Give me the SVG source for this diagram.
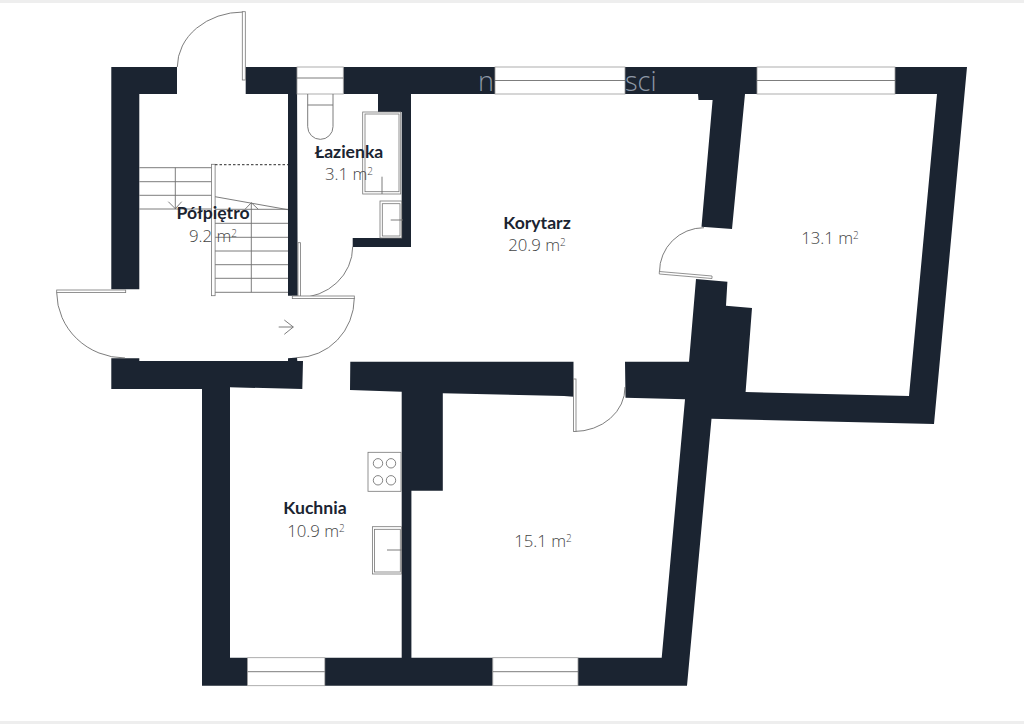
<svg xmlns="http://www.w3.org/2000/svg" width="1024" height="724" viewBox="0 0 1024 724">
<style>
.w{fill:#1b2431}
.win{fill:#fff;stroke:#9a9a9a;stroke-width:.8}
.l{fill:none;stroke:#6e6e6e;stroke-width:.9}
.d{fill:#fff;stroke:#777;stroke-width:.8}
.n{font-family:"Lato","Liberation Sans",sans-serif;font-weight:700;font-size:17.6px;fill:#1b2431;text-anchor:middle}
.a{font-family:"Open Sans","Liberation Sans",sans-serif;font-weight:300;font-size:16.8px;fill:#444;text-anchor:middle}
.s{font-size:10px}
.wm{font-family:"Open Sans","Liberation Sans",sans-serif;font-weight:300;font-size:27px;fill:#8e98a6}
</style>
<rect width="1024" height="724" fill="#fff"/>
<rect x="0" y="0" width="1024" height="3" fill="#eee"/>
<rect x="0" y="721" width="1024" height="3" fill="#eee"/>
<g id="walls">
<polygon class="w" points="111.3,67 177,67 177,94 139.3,94 139.3,289.3 111.3,289.3"/>
<polygon class="w" points="245.7,67 297,67 297.7,295.7 288,295.7 288,94 245.7,94"/>
<polygon class="w" points="343.3,67 495,67 495,94 411,94 411,247 352.7,247 352.7,238 401.7,238 401.7,112 378,112 378,94 343.3,94"/>
<polygon class="w" points="625,67 757,67 757,94 745,94 732,229 701.5,226.7 712.6,100 698.5,100 698,94 625,94"/>
<polygon class="w" points="895,67 967,67 934,424 711.5,418.7 687,685.7 578,685.7 578,657.7 661.7,657.7 685,399.3 625.5,397.7 625,361.7 689,361.7 696,279 727.4,281.7 726,305.7 752,308 745.6,392 909,396 937,94 895,94"/>
<polygon class="w" points="202,389 111.3,389 111.3,358.3 139.3,358.3 139.3,361 288,361 288,358.3 297,357.5 297.3,361 303,361 302.3,389 230,387.3 230,657.7 247.6,657.7 247.6,685.7 202,685.7"/>
<polygon class="w" points="350.3,361.7 573.5,361.7 573.5,396.7 564,396 442.8,393.3 442.8,490.7 411.4,490.7 411.4,657.7 492.8,657.7 492.8,685.7 324.8,685.7 324.8,657.7 401.7,657.7 401.7,391.7 350,390"/>
</g>
<g id="watermark">
<text class="wm" x="478" y="90.5">n</text>
<text class="wm" x="625" y="90.5">sci</text>
</g>
<g id="windows">
<rect class="win" x="297" y="67" width="46.3" height="27"/><line class="l" x1="297" y1="78" x2="343.3" y2="78"/>
<rect class="win" x="495" y="67" width="130" height="27"/><line class="l" x1="495" y1="80.5" x2="625" y2="80.5"/>
<rect class="win" x="757" y="67" width="138" height="27"/><line class="l" x1="757" y1="80.5" x2="895" y2="80.5"/>
<rect class="win" x="247.6" y="657.7" width="77.2" height="28"/><line class="l" x1="247.6" y1="671.7" x2="324.8" y2="671.7"/>
<rect class="win" x="492.8" y="657.7" width="85.2" height="28"/><line class="l" x1="492.8" y1="671.7" x2="578" y2="671.7"/>
</g>
<g id="doors">
<path class="l" d="M177.3 67A66 55 0 0 1 243.3 12"/><rect class="d" x="242.3" y="11.7" width="3" height="68.3"/>
<path class="l" d="M352.7 246.7A54.4 51 0 0 1 298.3 297.7"/><rect class="d" x="298" y="242.7" width="2.4" height="55.3"/>
<path class="l" d="M56.7 292.5A68.5 66 0 0 0 125 358"/><rect class="d" x="56.7" y="290" width="69" height="2.6"/>
<path class="l" d="M354.3 298A58 60 0 0 1 296.7 357.7"/><rect class="d" x="292.3" y="296" width="62" height="2.6"/>
<path class="l" d="M574 431.5A51 44 0 0 0 625 387"/><rect class="d" x="573.6" y="379" width="2.4" height="52.5"/>
<path class="l" d="M704 227.7A44.5 44 0 0 0 659.5 272"/><polygon class="d" points="659.3,271.5 712,276 712,278.5 659.3,274"/>
</g>
<g id="stairs">
<path class="l" d="M139.3 167.7H212M139.3 181.7H212M139.3 195.3H212M139.3 209H212M175.3 167.7V209M168.3 201.7L175.3 208.7L181.7 201.7"/>
<path class="l" d="M215 196.7L288 209.7M215 209.3H288M215 223.3H288M215 237.3H288M215 251H288M215 264.7H288M215 278.3H288M215 292.3H288M251.3 203V292.3M245 209.3L251.3 202.7L258.3 209.3"/>
<rect class="d" x="211.5" y="164.3" width="3.6" height="131.4"/>
<line x1="215" y1="164.7" x2="288" y2="164.7" stroke="#555" stroke-width="1.2" stroke-dasharray="2.5 2"/>
<path class="l" d="M278.7 327H293.3M284.3 320L293.3 327L284.3 334.3"/>
</g>
<g id="fixtures">
<path class="l" d="M307.7 94V126.7A12.6 12.6 0 0 0 333 126.7V94M307.7 105H333"/>
<rect class="d" x="362.7" y="112" width="38" height="82"/><rect class="d" x="365" y="114" width="34" height="77.7"/><line class="l" x1="382" y1="176.7" x2="382" y2="194"/>
<rect class="d" x="380" y="201" width="21.7" height="37"/><rect class="d" x="382.3" y="203.7" width="17.7" height="32.3"/><line class="l" x1="390.7" y1="220" x2="403" y2="220"/>
<rect class="d" x="368" y="452.3" width="33" height="39"/>
<g fill="none" stroke="#666" stroke-width=".8"><circle cx="378" cy="463.3" r="4.7"/><circle cx="391" cy="463.3" r="4.7"/><circle cx="378" cy="480.3" r="4.7"/><circle cx="391" cy="480.3" r="4.7"/></g>
<rect class="d" x="372.4" y="526.7" width="29" height="47.3"/><rect class="d" x="374.5" y="529.3" width="25.8" height="42.7"/><line class="l" x1="387" y1="550" x2="401.5" y2="550"/>
</g>
<g id="room-polpietro"><text class="n" x="213" y="219">Półpiętro</text><text class="a" x="213" y="242">9.2 m<tspan class="s" dy="-5">2</tspan></text></g>
<g id="room-lazienka"><text class="n" x="349" y="158">Łazienka</text><text class="a" x="349" y="180">3.1 m<tspan class="s" dy="-5">2</tspan></text></g>
<g id="room-korytarz"><text class="n" x="537" y="229">Korytarz</text><text class="a" x="537" y="251">20.9 m<tspan class="s" dy="-5">2</tspan></text></g>
<g id="room-13"><text class="a" x="830" y="244">13.1 m<tspan class="s" dy="-5">2</tspan></text></g>
<g id="room-kuchnia"><text class="n" x="315" y="514">Kuchnia</text><text class="a" x="316" y="537">10.9 m<tspan class="s" dy="-5">2</tspan></text></g>
<g id="room-15"><text class="a" x="543" y="547">15.1 m<tspan class="s" dy="-5">2</tspan></text></g>
</svg>
